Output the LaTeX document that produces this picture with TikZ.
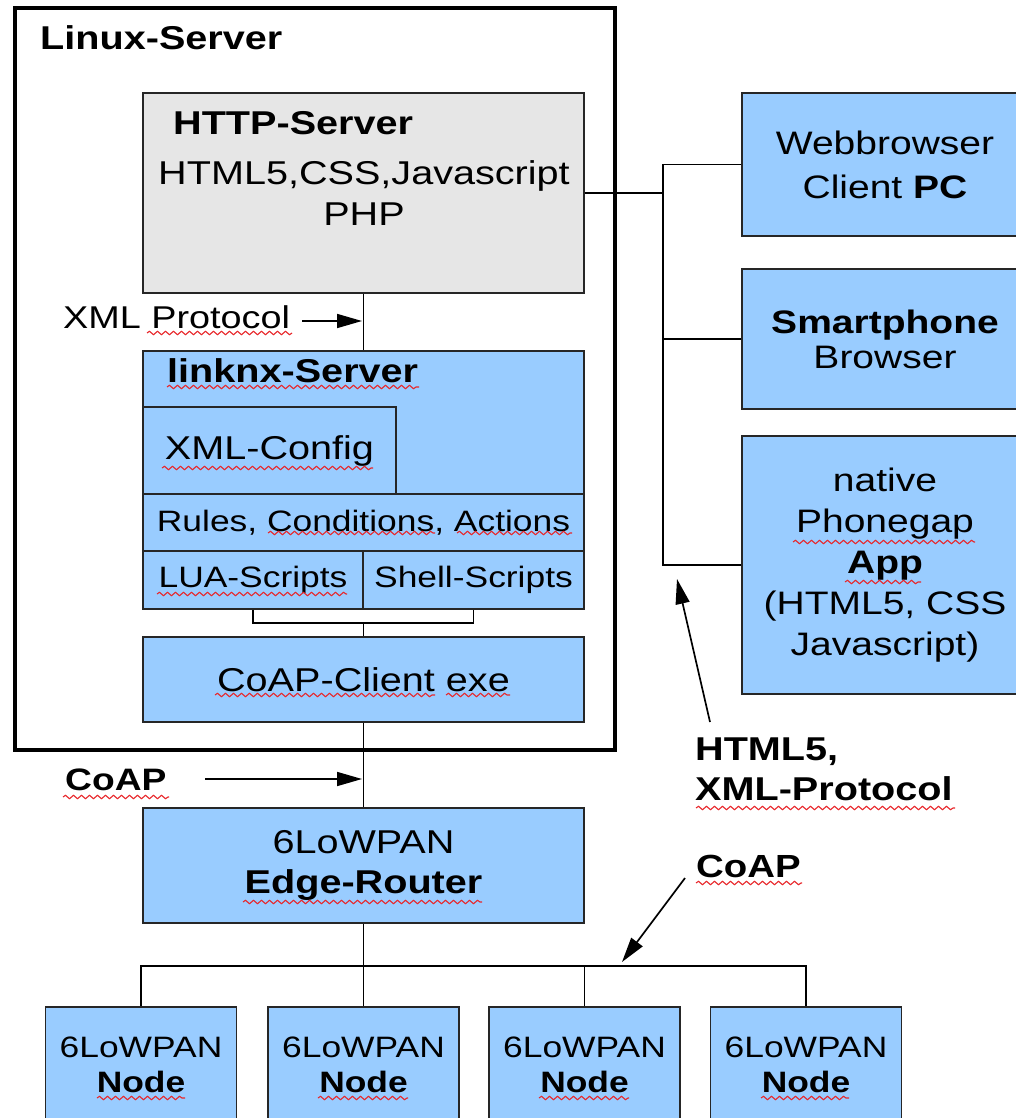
\documentclass[tikz,border=0pt]{standalone}
\usepackage{fontspec}
\setmainfont{Liberation Sans}[FakeStretch=1.2]
\usetikzlibrary{arrows.meta,decorations.pathmorphing}
\definecolor{boxblue}{HTML}{99CCFF}
\definecolor{boxgray}{HTML}{E6E6E6}
\definecolor{edgec}{HTML}{262626}
\definecolor{squigred}{HTML}{E8262A}
\begin{document}
\begin{tikzpicture}[x=1pt,y=-1pt,
  box/.style={draw=edgec, line width=1.6pt, fill=boxblue, inner sep=0pt, align=center,
              font=\fontsize{33}{40}\selectfont},
  graybox/.style={box, fill=boxgray},
  lbl/.style={inner sep=0pt, font=\fontsize{33}{40}\selectfont},
  blbl/.style={inner sep=0pt, font=\fontsize{33}{40}\selectfont\bfseries},
  conn/.style={line width=1.7pt, draw=black},
  arr/.style={line width=1.7pt, -{Triangle[length=25pt,width=14pt]}},
  squig/.style={draw=squigred, line width=1.1pt, decorate,
                decoration={snake, amplitude=1.7pt, segment length=8pt}}]
\useasboundingbox (0,0) rectangle (1016,1118);
\clip (0,0) rectangle (1016,1118);
\fill[white] (0,0) rectangle (1016,1118);

% Linux server frame
\node[draw=black, line width=4pt, minimum width=600pt, minimum height=742pt, inner sep=0pt] (linux) at (315,379) {};
\node[blbl, anchor=base west] (linuxlbl) at (40,50) {Linux-Server};

% HTTP server
\node[graybox, minimum width=441pt, minimum height=200pt] (http) at (363.5,193) {};
\node[blbl, anchor=base west] (httplbl) at (173,135) {HTTP-Server};
\node[lbl, anchor=base] (httpt1) at (364,185) {HTML5,CSS,Javascript};
\node[lbl, anchor=base] (httpt2) at (364,225) {PHP};

% linknx server
\node[box, minimum width=441pt, minimum height=258pt] (linknx) at (363.5,480) {};
\node[blbl, anchor=base west] (linknxlbl) at (167,382) {linknx-Server};
\node[box, minimum width=253pt, minimum height=87pt] (xmlcfg) at (269.5,450.5) {XML-Config};
\node[box, minimum width=441pt, minimum height=57pt, font=\fontsize{29.5}{36}\selectfont] (rules) at (363.5,522.5) {Rules, Conditions, Actions};
\node[box, minimum width=220pt, minimum height=58pt, font=\fontsize{29.5}{36}\selectfont] (lua) at (253,580) {LUA-Scripts};
\node[box, minimum width=221pt, minimum height=58pt, font=\fontsize{29.5}{36}\selectfont] (shell) at (473.5,580) {Shell-Scripts};

% CoAP client
\node[box, minimum width=441pt, minimum height=85pt] (coapc) at (363.5,679.5) {CoAP-Client exe};

% Edge router
\node[box, minimum width=441pt, minimum height=115pt] (edge) at (363.5,865.5) {6LoWPAN\\\textbf{Edge-Router}};

% 6LoWPAN nodes
\foreach \i/\cx in {1/141,2/363.5,3/584.5,4/806}{
  \node[box, minimum width=191pt, minimum height=115pt, font=\fontsize{29.5}{35}\selectfont] (n\i) at (\cx,1064.5) {6LoWPAN\\\textbf{Node}};
}

% Clients
\node[box, minimum width=286pt, minimum height=143pt, font=\fontsize{32.5}{44}\selectfont] (web) at (885,164.5) {Webbrowser\\Client \textbf{PC}};
\node[box, minimum width=286pt, minimum height=140pt, font=\fontsize{32.5}{35}\selectfont] (smart) at (885,339) {\textbf{Smartphone}\\Browser};
\node[box, minimum width=286pt, minimum height=258pt, font=\fontsize{32.5}{41}\selectfont] (app) at (885,565) {native\\Phonegap\\\textbf{App}\\(HTML5, CSS\\Javascript)};

% Labels
\node[inner sep=0pt, font=\fontsize{31.5}{38}\selectfont, anchor=base west] (xmlprot) at (63,328) {XML Protocol};
\node[blbl, font=\fontsize{31}{38}\selectfont\bfseries, anchor=base west] (coaplbl) at (65,790) {CoAP};
\node[blbl, anchor=base west] (htmllbl1) at (695,760) {HTML5,};
\node[blbl, anchor=base west] (htmllbl2) at (695,800) {XML-Protocol};
\node[blbl, font=\fontsize{32}{38}\selectfont\bfseries, anchor=base west] (coaplbl2) at (696,877) {CoAP};

% Connectors inside server
\draw[conn] (http.south) -- (linknx.north);
\draw[conn] (lua.south) -- ++(0,13) coordinate (bl) -| (shell.south);
\draw[conn] (coapc.north) -- (coapc.north |- bl);
\draw[conn] (coapc.south) -- (edge.north);

% Bus to nodes
\coordinate (bus) at (0,966);
\draw[conn] (edge.south) -- (edge.south |- bus);
\draw[conn] (n1.north) -- (n1.north |- bus) -- (n4.north |- bus) -- (n4.north);
\draw[conn] (n2.north) -- (n2.north |- bus);
\draw[conn] (n3.north) -- (n3.north |- bus);

% Trunk to clients
\coordinate (trunk) at (663,0);
\draw[conn] (http.east) -- (http.east -| trunk);
\draw[conn] (web.west) -- (web.west -| trunk) -- (app.west -| trunk) -- (app.west);
\draw[conn] (smart.west) -- (smart.west -| trunk);

% Arrows
\coordinate (xa1) at (302,321); \coordinate (xa2) at (362,321);
\draw[arr] (xa1) -- (xa2);
\coordinate (ca1) at (205,779); \coordinate (ca2) at (362,779);
\draw[arr] (ca1) -- (ca2);
\coordinate (ha1) at (710,722); \coordinate (ha2) at (677,579);
\draw[arr] (ha1) -- (ha2);
\coordinate (cb1) at (685,878); \coordinate (cb2) at (622,962);
\draw[arr] (cb1) -- (cb2);

% spell-check squiggles
\draw[squig] (147,333) -- (292,333);
\draw[squig] (167,387) -- (419,387);
\draw[squig] (162,468) -- (373,468);
\draw[squig] (268,533) -- (435,533);
\draw[squig] (457,533) -- (572,533);
\draw[squig] (157,594) -- (347,594);
\draw[squig] (215,695) -- (435,695);
\draw[squig] (446,695) -- (510,695);
\draw[squig] (63,797) -- (169,797);
\draw[squig] (243,902) -- (482,902);
\draw[squig] (696,883) -- (802,883);
\draw[squig] (696,808) -- (955,808);
\draw[squig] (97,1098) -- (185,1098);
\draw[squig] (318,1098) -- (408,1098);
\draw[squig] (539,1098) -- (629,1098);
\draw[squig] (761,1098) -- (849,1098);
\draw[squig] (793,542) -- (975,542);
\draw[squig] (845,582) -- (921,582);
\end{tikzpicture}
\end{document}
